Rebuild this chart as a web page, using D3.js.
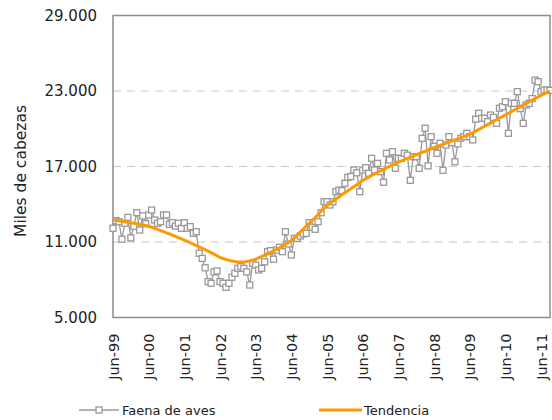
<!DOCTYPE html>
<html>
<head>
<meta charset="utf-8">
<script src="https://cdn.jsdelivr.net/npm/d3@7"></script>
<style>
  body { margin: 0; background: #fff; }
  text { font-family: "DejaVu Sans", sans-serif; fill: #222; }
</style>
</head>
<body>
<div id="chart"></div>
<script>
const width = 552;
const height = 420;

// monthly values, Jun-99 .. Sep-11
const faena = [
  12090, 12700, 12610, 11220, 12490, 12960, 11330, 12250, 13330, 11950,
  13070, 12450, 13150, 13540, 12750, 12490, 12610, 13150, 13150, 12400,
  12530, 12270, 12490, 12090, 12530, 12090, 12220, 11690, 11820, 10100,
  9700, 8950, 7850, 7720, 8620, 8700, 7850, 7720, 7400, 7720,
  8200, 8510, 8910, 9040, 8910, 8620, 7580, 9300, 9170, 8780,
  8910, 9430, 10230, 10310, 9630, 10360, 10580, 10230, 11820, 10840,
  9970, 11290, 11290, 11480, 11640, 11690, 12530, 12170, 12010, 12610,
  13330, 14200, 14200, 13940, 14200, 15000, 15130, 15080, 15670, 16140,
  16200, 16720, 16500, 15000, 16720, 16900, 16460, 17650, 16720, 17250,
  16590, 15750, 18050, 17520, 18180, 16860, 17650, 17650, 18050, 17900,
  15900, 17780, 17780, 16860, 19240, 20040, 17050, 19370, 18600, 18050,
  18850, 16700, 18710, 19370, 18900, 17380, 18800, 19250, 19370, 19640,
  19370, 19110, 20760, 21230, 20830, 20830, 20560, 21090, 20900, 20430,
  21630, 21750, 22150, 19640, 22020, 22020, 22950, 21600, 20430, 21890,
  22020, 22400, 23870, 23740, 22950, 23080, 23080, 23050
];

const tendencia = [
  12750, 12720, 12690, 12650, 12610, 12570, 12530, 12490, 12450, 12400,
  12360, 12310, 12250, 12170, 12090, 12000, 11910, 11820, 11730, 11640,
  11550, 11450, 11350, 11250, 11150, 11050, 10940, 10830, 10720, 10610,
  10500, 10390, 10280, 10160, 10040, 9910, 9780, 9690, 9610, 9540,
  9490, 9450, 9420, 9410, 9420, 9450, 9500, 9560, 9640, 9740,
  9850, 9960, 10070, 10180, 10300, 10420, 10540, 10670, 10800, 10940,
  11090, 11330, 11560, 11790, 12020, 12250, 12480, 12710, 12940, 13180,
  13420, 13660, 13900, 14070, 14240, 14410, 14580, 14750, 14910, 15070,
  15230, 15390, 15550, 15730, 15900, 16030, 16160, 16290, 16410, 16530,
  16650, 16770, 16890, 17010, 17120, 17240, 17350, 17450, 17540, 17640,
  17730, 17830, 17920, 18020, 18120, 18210, 18310, 18400, 18500, 18590,
  18680, 18760, 18850, 18940, 19030, 19110, 19200, 19290, 19370, 19460,
  19550, 19680, 19810, 19940, 20070, 20200, 20330, 20460, 20590, 20720,
  20850, 20970, 21100, 21230, 21360, 21490, 21620, 21750, 21880, 22010,
  22140, 22270, 22400, 22520, 22650, 22770, 22890, 23000
];

const tickLabels = ["Jun-99", "Jun-00", "Jun-01", "Jun-02", "Jun-03", "Jun-04",
  "Jun-05", "Jun-06", "Jun-07", "Jun-08", "Jun-09", "Jun-10", "Jun-11"];
const yTicks = [5000, 11000, 17000, 23000, 29000];
const gridTicks = [11000, 17000, 23000];

const margin = { left: 113, right: 2, top: 15.5, bottom: 102.5 };

const svg = d3.select("#chart")
  .append("svg")
  .attr("width", width)
  .attr("height", height);

const x = d3.scaleLinear()
  .domain([0, faena.length - 1])
  .range([margin.left, width - margin.right]);

const y = d3.scaleLinear()
  .domain([5000, 29000])
  .range([height - margin.bottom, margin.top]);

const fmt = d3.formatLocale({ decimal: ",", thousands: ".", grouping: [3], currency: ["$", ""] }).format(",");

// dashed gridlines
svg.selectAll(".grid")
  .data(gridTicks)
  .join("line")
  .attr("class", "grid")
  .attr("x1", margin.left)
  .attr("x2", width - margin.right)
  .attr("y1", d => y(d))
  .attr("y2", d => y(d))
  .attr("stroke", "#c8c8c8")
  .attr("stroke-width", 1)
  .attr("stroke-dasharray", "8,6");

// y axis labels
const yAxis = svg.append("g")
  .attr("transform", `translate(${margin.left},0)`)
  .call(d3.axisLeft(y).tickValues(yTicks).tickFormat(fmt).tickSize(0).tickPadding(16));
yAxis.select(".domain").remove();
yAxis.selectAll("text")
  .attr("font-size", 15)
  .attr("font-family", "DejaVu Sans, sans-serif")
  .attr("fill", "#222");

// x axis labels, one per year
const xAxis = svg.append("g")
  .attr("transform", `translate(0,${height - margin.bottom})`)
  .call(d3.axisBottom(x)
    .tickValues(tickLabels.map((d, i) => i * 12))
    .tickFormat((d, i) => tickLabels[i])
    .tickSize(0));
xAxis.select(".domain").remove();
xAxis.selectAll("text")
  .attr("font-size", 14.5)
  .attr("font-family", "DejaVu Sans, sans-serif")
  .attr("fill", "#222")
  .attr("text-anchor", "end")
  .attr("dy", "0.35em")
  .attr("transform", "translate(0,16) rotate(-90)")
  .attr("x", 0)
  .attr("y", 0);

// plot frame
svg.append("rect")
  .attr("x", margin.left)
  .attr("y", margin.top)
  .attr("width", width - margin.right - margin.left)
  .attr("height", height - margin.bottom - margin.top)
  .attr("fill", "none")
  .attr("stroke", "#8c8c8c")
  .attr("stroke-width", 1.5);

// Faena de aves
const line = d3.line()
  .x((d, i) => x(i))
  .y(d => y(d));

svg.append("path")
  .datum(faena)
  .attr("d", line)
  .attr("fill", "none")
  .attr("stroke", "#999")
  .attr("stroke-width", 1.3);

svg.selectAll(".pt")
  .data(faena)
  .join("rect")
  .attr("class", "pt")
  .attr("x", (d, i) => x(i) - 3)
  .attr("y", d => y(d) - 3)
  .attr("width", 6)
  .attr("height", 6)
  .attr("fill", "#fff")
  .attr("stroke", "#999")
  .attr("stroke-width", 1.3);

// Tendencia
svg.append("path")
  .datum(tendencia)
  .attr("d", line)
  .attr("fill", "none")
  .attr("stroke", "#ff9900")
  .attr("stroke-width", 3);

// y title
svg.append("text")
  .attr("transform", "translate(26,171) rotate(-90)")
  .attr("text-anchor", "middle")
  .attr("font-size", 15.5)
  .text("Miles de cabezas");

// legend
const legend = svg.append("g").attr("transform", "translate(0,410)");
legend.append("line")
  .attr("x1", 79).attr("x2", 119)
  .attr("stroke", "#999").attr("stroke-width", 1.3);
legend.append("rect")
  .attr("x", 96).attr("y", -3).attr("width", 6).attr("height", 6)
  .attr("fill", "#fff").attr("stroke", "#999").attr("stroke-width", 1.3);
legend.append("text")
  .attr("x", 122).attr("dy", "0.35em")
  .attr("font-size", 13)
  .text("Faena de aves");
legend.append("line")
  .attr("x1", 319).attr("x2", 362)
  .attr("stroke", "#ff9900").attr("stroke-width", 3);
legend.append("text")
  .attr("x", 364).attr("dy", "0.35em")
  .attr("font-size", 13)
  .text("Tendencia");
</script>
</body>
</html>
